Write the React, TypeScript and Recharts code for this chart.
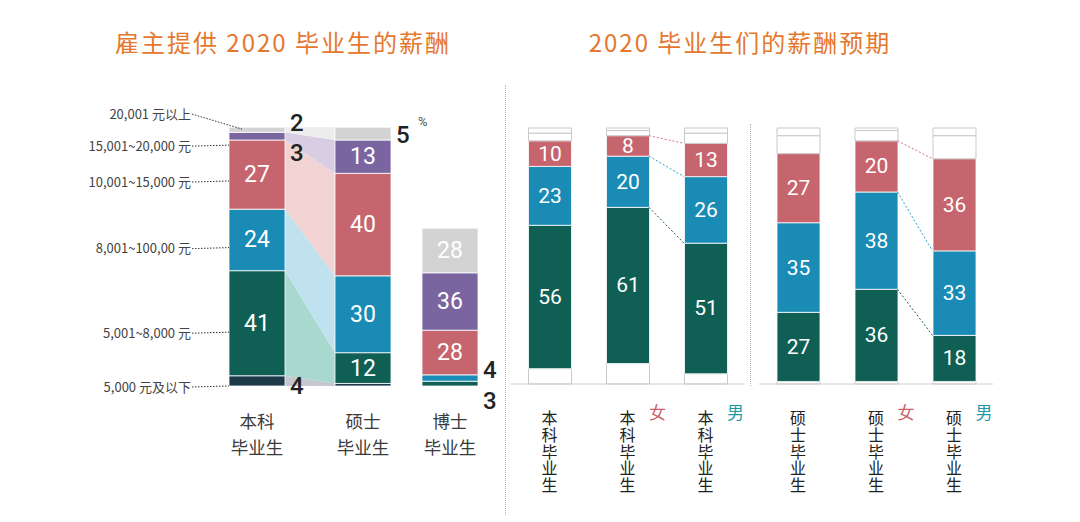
import React from 'react';
import { BarChart, Bar, XAxis, YAxis, LabelList, AreaChart, Area, LineChart, Line } from 'recharts';

const W = 1080;
const H = 522;
const CJK = "'Noto Sans CJK SC', sans-serif";
const NUM = "Roboto, 'Noto Sans CJK SC', sans-serif";

// salary bands, bottom to top
const SALARY_BANDS = ['5,000 元及以下', '5,001~8,000 元', '8,001~100,00 元', '10,001~15,000 元', '15,001~20,000 元', '20,001 元以上'];

// 雇主提供的薪酬 (%)
const OFFER_GROUPS = ['本科毕业生', '硕士毕业生'];
const BACHELOR_OFFER = [4, 41, 24, 27, 3, 2];
const MASTER_OFFER = [1, 12, 30, 40, 13, 5];
const PHD_GROUP = ['博士毕业生'];
const PHD_OFFER = [0, 3, 4, 28, 36, 28];

// 毕业生的薪酬预期 (%)
const BACHELOR_EXPECT_GROUPS = ['本科毕业生', '本科毕业生', '本科毕业生'];
const MASTER_EXPECT_GROUPS = ['硕士毕业生', '硕士毕业生', '硕士毕业生'];
const GENDERS = ['', '女', '男'];
const BACHELOR_EXPECT_ALL = [6, 56, 23, 10, 3, 2];
const BACHELOR_EXPECT_F = [8, 61, 20, 8, 2, 1];
const BACHELOR_EXPECT_M = [4, 51, 26, 13, 4, 2];
const MASTER_EXPECT_ALL = [1, 27, 35, 27, 7, 3];
const MASTER_EXPECT_F = [1, 36, 38, 20, 4, 1];
const MASTER_EXPECT_M = [1, 18, 33, 36, 9, 3];

// where the band names sit on the left axis (in % units)
const LEADER_TICKS = [0, 21, 54, 80, 94, 106.5];

const BAND_COLORS = ['#1d3a4b', '#0f5f55', '#1a8bb5', '#c6656d', '#7a65a1', '#d3d3d3'];
const FLOW_COLORS = ['#c4c7cf', '#a9d8cf', '#c0e2ee', '#f2d3d4', '#d7cee4', '#ededed'];
const EXPECT_COLORS = ['#ffffff', '#0f5f55', '#1a8bb5', '#c6656d', '#ffffff', '#ffffff'];
const GENDER_COLORS: Record<string, string> = { 女: '#c9606b', 男: '#1f9aa3' };
const LINK_COLORS = ['#1e5a50', '#2a9ec6', '#d47080'];

// small segments labelled outside the bar: vertical nudge
const OUTSIDE_DY: Record<string, number> = {
  '本科毕业生-5': -7,
  '本科毕业生-4': 17,
  '本科毕业生-0': 5,
  '硕士毕业生-5': 1,
  '博士毕业生-2': -8,
  '博士毕业生-1': 17,
};

const toRow = (name: string, vals: number[]) => {
  const r: any = { name };
  vals.forEach((v, i) => (r['b' + i] = v));
  return r;
};

const offerRows = [toRow(OFFER_GROUPS[0], BACHELOR_OFFER), toRow(OFFER_GROUPS[1], MASTER_OFFER)];
const phdRows = [toRow(PHD_GROUP[0], PHD_OFFER)];
const bachelorExpectRows = [BACHELOR_EXPECT_ALL, BACHELOR_EXPECT_F, BACHELOR_EXPECT_M].map((v, i) => toRow(BACHELOR_EXPECT_GROUPS[i], v));
const masterExpectRows = [MASTER_EXPECT_ALL, MASTER_EXPECT_F, MASTER_EXPECT_M].map((v, i) => toRow(MASTER_EXPECT_GROUPS[i], v));

// flow bands between 本科 right edge and 硕士 left edge (x in category units)
const OFFER_BAR_FRAC = 56 / 106;
const flowRows = [
  toRow('a', BACHELOR_OFFER),
  toRow('b', MASTER_OFFER),
].map((r, i) => ({ ...r, x: i === 0 ? 0.5 + OFFER_BAR_FRAC / 2 : 1.5 - OFFER_BAR_FRAC / 2 }));

// dotted links from 女 bar to 男 bar at the top of each coloured segment
const EXPECT_BAR_FRAC = 43 / 78;
const cum = (vals: number[], k: number) => vals.slice(0, k + 1).reduce((a, b) => a + b, 0);
const linkRows = (f: number[], m: number[]) => [
  { x: 1.5 + EXPECT_BAR_FRAC / 2, l1: cum(f, 1), l2: cum(f, 2), l3: cum(f, 3) },
  { x: 2.5 - EXPECT_BAR_FRAC / 2, l1: cum(m, 1), l2: cum(m, 2), l3: cum(m, 3) },
];

const segLabel = (rows: any[], band: number, size: number) => (p: any) => {
  const vb = p.viewBox ?? p;
  const { x, y, width, height } = vb;
  const v = Number(p.value);
  if (!v) return null;
  const row = rows[p.index];
  if (v >= 8) {
    return (
      <text x={x + width / 2} y={y + height / 2} textAnchor="middle" dominantBaseline="central" fill="#fff" fontSize={size} fontFamily={NUM}>
        {v}
      </text>
    );
  }
  const key = `${row?.name}-${band}`;
  const dy = OUTSIDE_DY[key];
  if (dy === undefined) return null;
  const tx = x + width + 5;
  const ty = y + height / 2 + dy;
  return (
    <g>
      <text x={tx} y={ty} dominantBaseline="central" fill="#222" fontSize={24} fontWeight={500} fontFamily={NUM}>
        {v}
      </text>
      {key === '硕士毕业生-5' && (
        <text x={tx + 22} y={ty - 9} fill="#555" fontSize={13} fontFamily={NUM}>%</text>
      )}
    </g>
  );
};

const GroupTick = (p: any) => {
  const name: string = p.payload.value;
  return (
    <text x={p.x} textAnchor="middle" fill="#3a3a3a" fontSize={17.5} fontFamily={CJK}>
      <tspan x={p.x} y={p.y + 42}>{name.slice(0, 2)}</tspan>
      <tspan x={p.x} y={p.y + 68}>{name.slice(2)}</tspan>
    </text>
  );
};

const LeaderTick = (p: any) => {
  const label = SALARY_BANDS[p.index];
  const top = p.index === SALARY_BANDS.length - 1;
  return (
    <g>
      <text x={p.x} y={p.y} textAnchor="end" dominantBaseline="central" fill="#444" fontSize={13} fontFamily={CJK}>
        {label}
      </text>
      <line
        x1={p.x + 1}
        y1={p.y + 1}
        x2={top ? p.x + 51 : p.x + 38}
        y2={top ? p.y + 16 : p.y}
        stroke="#333"
        strokeWidth={1}
        strokeDasharray="1.5 1.5"
      />
    </g>
  );
};

const VerticalTick = (p: any) => {
  const g = GENDERS[p.index];
  return (
    <g>
      <text
        x={p.x}
        y={p.y + 26}
        fill="#222"
        fontSize={16}
        fontFamily={CJK}
        style={{ writingMode: 'vertical-rl', letterSpacing: 0.8 }}
      >
        {p.payload.value}
      </text>
      {g && (
        <text x={p.x + 30} y={p.y + 35} textAnchor="middle" fill={GENDER_COLORS[g]} fontSize={17} fontFamily={CJK}>
          {g}
        </text>
      )}
    </g>
  );
};

const layer: React.CSSProperties = { position: 'absolute', left: 0, top: 0 };

const ExpectChart = ({ rows, left }: { rows: any[]; left: number }) => (
  <div style={layer}>
    <BarChart width={W} height={H} data={rows} barSize={43} margin={{ top: 128, right: W - left - 234, bottom: 18, left }}>
      <XAxis dataKey="name" height={120} interval={0} tickLine={false} tickSize={0} tickMargin={0} axisLine={{ stroke: '#cfcfcf' }} tick={(p: any) => <VerticalTick {...p} />} />
      <YAxis hide domain={[0, 100]} />
      {EXPECT_COLORS.map((c, i) => (
        <Bar key={i} dataKey={'b' + i} stackId="e" fill={c} stroke={c === '#ffffff' ? '#c9c9c9' : '#fff'} strokeWidth={c === '#ffffff' ? 1 : 0.8} isAnimationActive={false}>
          {c !== '#ffffff' && <LabelList dataKey={'b' + i} content={segLabel(rows, i, 21)} />}
        </Bar>
      ))}
    </BarChart>
  </div>
);

const LinkChart = ({ rows, left }: { rows: any[]; left: number }) => (
  <div style={layer}>
    <LineChart width={W} height={H} data={rows} margin={{ top: 128, right: W - left - 234, bottom: 138, left }}>
      <XAxis dataKey="x" type="number" domain={[0, 3]} hide />
      <YAxis hide domain={[0, 100]} />
      {['l1', 'l2', 'l3'].map((k, i) => (
        <Line key={k} dataKey={k} type="linear" stroke={LINK_COLORS[i]} strokeWidth={1} strokeDasharray="2 2" dot={false} isAnimationActive={false} />
      ))}
    </LineChart>
  </div>
);

const titleStyle: React.CSSProperties = {
  position: 'absolute',
  top: 27,
  width: 420,
  textAlign: 'center',
  fontFamily: CJK,
  fontSize: 24,
  lineHeight: '30px',
  letterSpacing: 2,
  color: '#e5782e',
};

export default function App() {
  return (
    <div style={{ position: 'absolute', left: 0, top: 0, width: W, height: H, background: '#fff', overflow: 'hidden' }}>
      {/* flows */}
      <div style={layer}>
        <AreaChart width={W} height={H} data={flowRows} margin={{ top: 99, right: W - 416, bottom: 136, left: 204 }}>
          <XAxis dataKey="x" type="number" domain={[0, 2]} hide />
          <YAxis hide domain={[0, 112]} />
          {FLOW_COLORS.map((c, i) => (
            <Area key={i} dataKey={'b' + i} stackId="f" type="linear" fill={c} fillOpacity={1} stroke="none" isAnimationActive={false} />
          ))}
        </AreaChart>
      </div>

      {/* 本科 / 硕士 offers */}
      <div style={layer}>
        <BarChart width={W} height={H} data={offerRows} barSize={56} margin={{ top: 99, right: W - 416, bottom: 56, left: 14 }}>
          <XAxis dataKey="name" height={80} interval={0} axisLine={false} tickLine={false} tickSize={0} tickMargin={0} tick={(p: any) => <GroupTick {...p} />} />
          <YAxis width={190} domain={[0, 112]} ticks={LEADER_TICKS} interval={0} axisLine={false} tickLine={false} tickSize={0} tickMargin={13} tick={(p: any) => <LeaderTick {...p} />} />
          {BAND_COLORS.map((c, i) => (
            <Bar key={i} dataKey={'b' + i} stackId="o" fill={c} stroke="#fff" strokeWidth={0.8} isAnimationActive={false}>
              <LabelList dataKey={'b' + i} content={segLabel(offerRows, i, 23)} />
            </Bar>
          ))}
        </BarChart>
      </div>

      {/* 博士 offers, own scale */}
      <div style={layer}>
        <BarChart width={W} height={H} data={phdRows} barSize={56} margin={{ top: 99, right: W - 503, bottom: 56, left: 397 }}>
          <XAxis dataKey="name" height={80} interval={0} axisLine={false} tickLine={false} tickSize={0} tickMargin={0} tick={(p: any) => <GroupTick {...p} />} />
          <YAxis hide domain={[0, 180]} />
          {BAND_COLORS.map((c, i) => (
            <Bar key={i} dataKey={'b' + i} stackId="p" fill={c} stroke="#fff" strokeWidth={0.8} isAnimationActive={false}>
              <LabelList dataKey={'b' + i} content={segLabel(phdRows, i, 23)} />
            </Bar>
          ))}
        </BarChart>
      </div>

      <ExpectChart rows={bachelorExpectRows} left={510.5} />
      <LinkChart rows={linkRows(BACHELOR_EXPECT_F, BACHELOR_EXPECT_M)} left={510.5} />
      <ExpectChart rows={masterExpectRows} left={759} />
      <LinkChart rows={linkRows(MASTER_EXPECT_F, MASTER_EXPECT_M)} left={759} />

      {/* separators */}
      <div style={{ position: 'absolute', left: 505, top: 85, height: 430, borderLeft: '1px dotted #b5b5b5' }} />
      <div style={{ position: 'absolute', left: 750, top: 124, height: 262, borderLeft: '1px dotted #b5b5b5' }} />

      {/* titles */}
      <div style={{ ...titleStyle, left: 73 }}>雇主提供 2020 毕业生的薪酬</div>
      <div style={{ ...titleStyle, left: 530 }}>2020 毕业生们的薪酬预期</div>
    </div>
  );
}
